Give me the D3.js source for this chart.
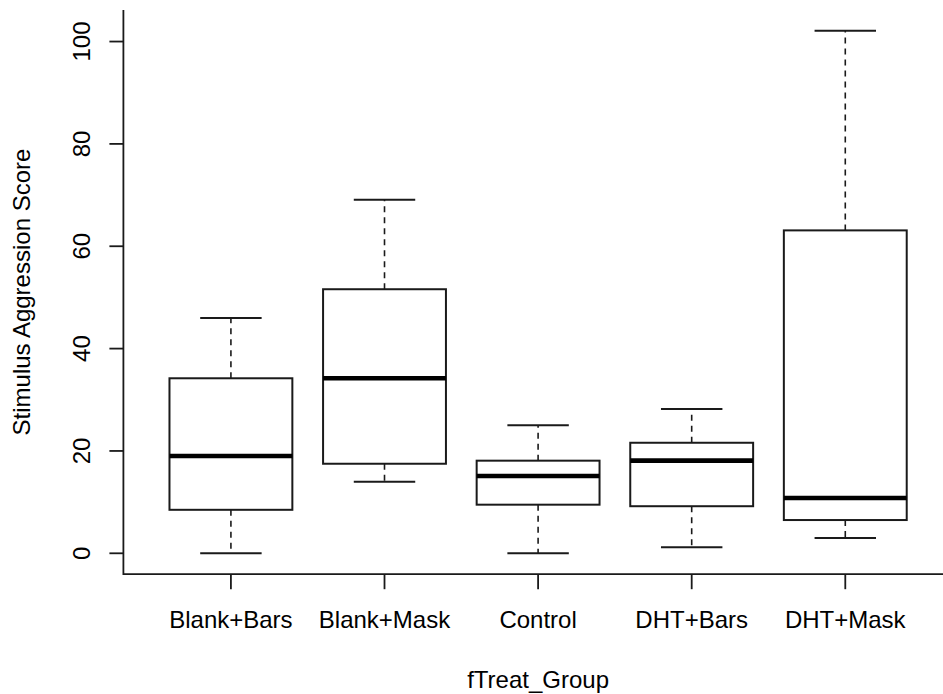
<!DOCTYPE html>
<html>
<head>
<meta charset="utf-8">
<script src="https://cdn.jsdelivr.net/npm/d3@7"></script>
<style>
  html, body { margin: 0; padding: 0; background: #fff; }
  svg { display: block; }
  text { font-family: "Liberation Sans", Arial, sans-serif; fill: #000; }
</style>
</head>
<body>
<svg id="chart" width="943" height="694"></svg>
<script>
// Treatment groups and their five-number summaries
const groups   = ["Blank+Bars", "Blank+Mask", "Control", "DHT+Bars", "DHT+Mask"];
const lowWhisk = [0,    14,   0,    1.2,  3];
const lowerQ   = [8.5,  17.5, 9.5,  9.2,  6.5];
const medians  = [19,   34.2, 15.1, 18.1, 10.8];
const upperQ   = [34.2, 51.6, 18.1, 21.6, 63.1];
const highWhisk= [46,   69.1, 25,   28.2, 102.1];
const yTicks   = [0, 20, 40, 60, 80, 100];

const xTitle = "fTreat_Group";
const yTitle = "Stimulus Aggression Score";

const svg = d3.select("#chart");
const W = 943, H = 694;

// Plot region, with R-style 4% padding on both axes
const plotTop = 9.9, plotBottom = 574.2, plotLeft = 123.4, plotRight = 952.8;
const yLo = 0, yHi = d3.max(highWhisk);
const yPad = (yHi - yLo) * 0.04;
const y = d3.scaleLinear().domain([yLo - yPad, yHi + yPad]).range([plotBottom, plotTop]);
const x = d3.scaleLinear().domain([0.3, groups.length + 0.7]).range([plotLeft, plotRight]);

const boxHalf = 0.4;     // box width 0.8 units
const capHalf = 0.2;     // staple width half of box
const ink = "#1a1a1a";

const data = groups.map((g, i) => ({
  name: g, pos: i + 1,
  lo: lowWhisk[i], q1: lowerQ[i], med: medians[i], q3: upperQ[i], hi: highWhisk[i]
}));

const g = svg.append("g");

// Whiskers (dashed) from box edges to the caps
g.selectAll("line.whiskLo").data(data).join("line")
  .attr("x1", d => x(d.pos)).attr("x2", d => x(d.pos))
  .attr("y1", d => y(d.q1)).attr("y2", d => y(d.lo))
  .attr("stroke", ink).attr("stroke-width", 1.6).attr("stroke-dasharray", "6,5");
g.selectAll("line.whiskHi").data(data).join("line")
  .attr("x1", d => x(d.pos)).attr("x2", d => x(d.pos))
  .attr("y1", d => y(d.q3)).attr("y2", d => y(d.hi))
  .attr("stroke", ink).attr("stroke-width", 1.6).attr("stroke-dasharray", "6,5");

// Caps
["lo", "hi"].forEach(k => {
  g.selectAll("line.cap" + k).data(data).join("line")
    .attr("x1", d => x(d.pos - capHalf)).attr("x2", d => x(d.pos + capHalf))
    .attr("y1", d => y(d[k])).attr("y2", d => y(d[k]))
    .attr("stroke", ink).attr("stroke-width", 2);
});

// Boxes
g.selectAll("rect.box").data(data).join("rect")
  .attr("x", d => x(d.pos - boxHalf))
  .attr("width", d => x(d.pos + boxHalf) - x(d.pos - boxHalf))
  .attr("y", d => y(d.q3))
  .attr("height", d => y(d.q1) - y(d.q3))
  .attr("fill", "#fff").attr("stroke", ink).attr("stroke-width", 2);

// Medians
g.selectAll("line.med").data(data).join("line")
  .attr("x1", d => x(d.pos - boxHalf)).attr("x2", d => x(d.pos + boxHalf))
  .attr("y1", d => y(d.med)).attr("y2", d => y(d.med))
  .attr("stroke", "#000").attr("stroke-width", 4.6);

// Left and bottom frame
svg.append("path")
  .attr("d", `M${plotLeft},${plotTop}V${plotBottom}H${plotRight}`)
  .attr("fill", "none").attr("stroke", ink).attr("stroke-width", 1.8);

// Y axis ticks and rotated labels
const yAxis = svg.append("g");
yAxis.selectAll("line").data(yTicks).join("line")
  .attr("x1", plotLeft - 14).attr("x2", plotLeft)
  .attr("y1", d => y(d)).attr("y2", d => y(d))
  .attr("stroke", ink).attr("stroke-width", 1.8);
yAxis.selectAll("text").data(yTicks).join("text")
  .attr("transform", d => `translate(89.5,${y(d)}) rotate(-90)`)
  .attr("text-anchor", "middle")
  .attr("font-size", 24)
  .text(d => d);

// X axis ticks and group labels
const xAxis = svg.append("g");
xAxis.selectAll("line").data(data).join("line")
  .attr("x1", d => x(d.pos)).attr("x2", d => x(d.pos))
  .attr("y1", plotBottom).attr("y2", plotBottom + 15)
  .attr("stroke", ink).attr("stroke-width", 1.8);
xAxis.selectAll("text").data(data).join("text")
  .attr("x", d => x(d.pos)).attr("y", 627.5)
  .attr("text-anchor", "middle")
  .attr("font-size", 24)
  .text(d => d.name);

// Axis titles
svg.append("text")
  .attr("x", x((1 + groups.length) / 2)).attr("y", 687.5)
  .attr("text-anchor", "middle").attr("font-size", 24)
  .text(xTitle);
svg.append("text")
  .attr("transform", `translate(30,${(plotTop + plotBottom) / 2}) rotate(-90)`)
  .attr("text-anchor", "middle").attr("font-size", 24)
  .text(yTitle);
</script>
</body>
</html>
